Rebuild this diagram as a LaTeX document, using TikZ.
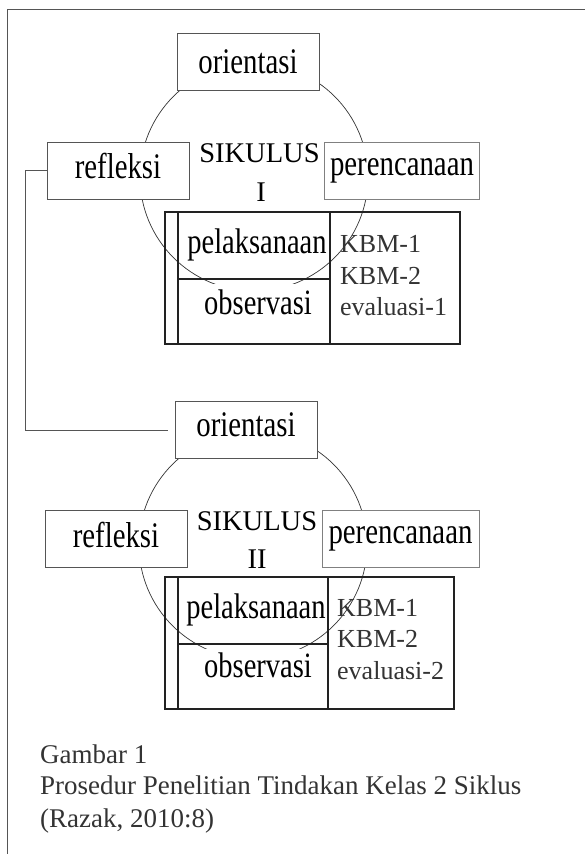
\documentclass[tikz,border=0pt]{standalone}
\usepackage{graphicx}
\usepackage{fontspec}
\setmainfont{Liberation Serif}
\definecolor{boxgray}{HTML}{555555}
\definecolor{inkgray}{HTML}{333333}
\definecolor{tabline}{HTML}{222222}
\newcommand{\tallword}[1]{\scalebox{1}[1.25]{#1}}

\begin{document}
\begin{tikzpicture}[x=1pt,y=-1pt,
  box/.style={draw=boxgray,line width=0.9pt,fill=white,minimum height=57pt,text height=24pt,font=\fontsize{28.8}{34}\selectfont},
  ring/.style={draw=inkgray,line width=0.7pt,circle,minimum size=228pt},
  cell/.style={draw=tabline,line width=2.3pt,anchor=north west},
  cover/.style={fill=white,anchor=north west},
  cyctext/.style={anchor=base,font=\fontsize{28.5}{34}\selectfont},
  kbm/.style={anchor=base west,text=inkgray,font=\fontsize{26}{30}\selectfont},
  captext/.style={anchor=base west,text=inkgray,font=\fontsize{27}{31}\selectfont}]
\tikzstyle{every node}+=[inner sep=0pt]
\useasboundingbox (0,0) rectangle (585,854);
% outer frame
\draw [boxgray,line width=0.8pt] (7.5,854) -- (7.5,9) -- (585,9);

% siklus I
\node [ring] (cyc1) at (254,177) {};
\node [box,minimum width=142pt,text depth=2pt] (ori1) at (248,62) {\tallword{orientasi}};
\node [box,minimum width=142pt,text depth=9pt] (ref1) at (118,170.5) {\tallword{refleksi}};
\node [box,draw=black!50,minimum width=155pt,text depth=15pt] (ren1) at (402,170.5) {\tallword{perencanaan}};
\node [cyctext] (sik1) at (259.5,162) {SIKULUS};
\node [cyctext] (num1) at (261,201) {I};
\node [cell,minimum width=13pt,minimum height=132pt] (strip1) at (164,211) {};
\node [cell,minimum width=152pt,minimum height=67pt] (pel1) at (177,211) {};
\node [cell,minimum width=130pt,minimum height=132pt] (kbm1) at (329,211) {};
\node [cover,minimum width=148pt,minimum height=57pt] (cov1) at (179,284) {};
\node [cell,minimum width=152pt,minimum height=65pt] (obs1) at (177,278) {};
\node [cyctext] (pel1t) at (257,253) {\tallword{pelaksanaan}};
\node [cyctext] (obs1t) at (258,314) {\tallword{observasi}};
\node [kbm] (k11) at (340,252) {KBM-1};
\node [kbm] (k12) at (340,284) {KBM-2};
\node [kbm] (ev1) at (340,315) {evaluasi-1};

% siklus II
\node [ring] (cyc2) at (253,545) {};
\node [box,minimum width=142pt,text depth=12pt] (ori2) at (246,430) {\tallword{orientasi}};
\node [box,minimum width=142pt,text depth=8pt] (ref2) at (116,539) {\tallword{refleksi}};
\node [box,draw=black!50,minimum width=157pt,text depth=16pt] (ren2) at (400.5,539) {\tallword{perencanaan}};
\node [cyctext] (sik2) at (257,530) {SIKULUS};
\node [cyctext] (num2) at (257,568) {II};
\node [cell,minimum width=13pt,minimum height=132pt] (strip2) at (164,576) {};
\node [cell,minimum width=150pt,minimum height=67pt] (pel2) at (177,576) {};
\node [cell,minimum width=126pt,minimum height=132pt] (kbm2) at (327,576) {};
\node [cover,minimum width=146pt,minimum height=57pt] (cov2) at (179,649) {};
\node [cell,minimum width=150pt,minimum height=65pt] (obs2) at (177,643) {};
\node [cyctext] (pel2t) at (256,618) {\tallword{pelaksanaan}};
\node [cyctext] (obs2t) at (258,677) {\tallword{observasi}};
\node [kbm] (k21) at (337,616) {KBM-1};
\node [kbm] (k22) at (337,647) {KBM-2};
\node [kbm] (ev2) at (337,679) {evaluasi-2};

% refleksi I to orientasi II
\draw [boxgray,line width=0.8pt,shorten >=7pt] (ref1.west) -- ++(-21,0) |- (ori2.west);

% caption
\node [captext] (cap1) at (40,763) {Gambar 1};
\node [captext] (cap2) at (40,794) {Prosedur Penelitian Tindakan Kelas 2 Siklus};
\node [captext] (cap3) at (40,827) {(Razak, 2010:8)};
\end{tikzpicture}
\end{document}
